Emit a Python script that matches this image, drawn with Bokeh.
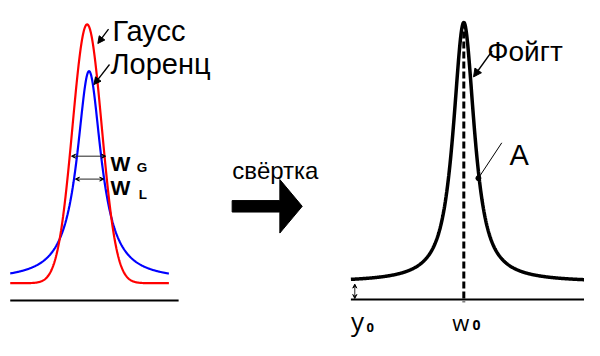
import numpy as np
from bokeh.plotting import figure
from bokeh.models import Range1d, Arrow, NormalHead, VeeHead
from bokeh.core.properties import value
from bokeh.embed import file_html
from bokeh.resources import INLINE

# ---- data (diagram units: x right, y up) ----
# Gaussian (Гаусс)
gauss_center = 89.0
gauss_base = 60.0
gauss_amp = 271.0
gauss_sigma = 15.0
# Lorentzian (Лоренц)
lor_center = 91.0
lor_base = 63.0
lor_amp = 219.0
lor_gamma = 15.0
left_x_span = [10.0, 173.0]
left_axis_y = 42.0
left_axis_x = [10.0, 183.0]
# Voigt (Фойгт)
voigt_center = 476.0
voigt_base = 61.0
voigt_amp = 272.0
voigt_fwhm = 26.0
voigt_eta = 0.9
right_x_span = [360.0, 600.0]
right_axis_y = 43.0

labels_left = ["Гаусс", "Лоренц"]
label_conv = "свёртка"
label_voigt = "Фойгт"
label_A = "A"

# ---- curves ----
xl = np.linspace(left_x_span[0], left_x_span[1], 400)
y_gauss = gauss_base + gauss_amp * np.exp(-(xl - gauss_center) ** 2 / (2 * gauss_sigma ** 2))
y_lor = lor_base + lor_amp / (1 + ((xl - lor_center) / lor_gamma) ** 2)

xr = np.linspace(right_x_span[0], right_x_span[1], 600)
hw = voigt_fwhm / 2
sig = voigt_fwhm / 2.3548
prof = voigt_eta / (1 + ((xr - voigt_center) / hw) ** 2) + (1 - voigt_eta) * np.exp(-(xr - voigt_center) ** 2 / (2 * sig ** 2))
y_voigt = voigt_base + voigt_amp * prof

W, H = 584, 340
p = figure(width=W, height=H, output_backend="svg", toolbar_location=None,
           x_range=Range1d(0, 600), y_range=Range1d(0, 356),
           min_border=0, outline_line_color=None)
p.axis.visible = False
p.grid.visible = False
p.background_fill_color = "white"

SANS = value("Liberation Sans")
OPEN = value("Open Sans")

# left panel
p.line(left_axis_x, [left_axis_y, left_axis_y], line_color="black", line_width=2)
p.line(xl, y_lor, line_color="#0000ff", line_width=2.2)
p.line(xl, y_gauss, line_color="#ff0000", line_width=2.2)

# width arrows
for (x0, x1, yy) in [(73, 108, 193), (77, 106, 169)]:
    p.add_layout(Arrow(start=VeeHead(size=4, line_width=1), end=VeeHead(size=4, line_width=1),
                       x_start=x0, y_start=yy, x_end=x1, y_end=yy, line_width=1, line_color="#222222"))

p.text(x=[115], y=[324], text=[labels_left[0]], text_font=SANS, text_font_size="29px",
       text_baseline="alphabetic", text_align="left", text_color="black")
p.text(x=[113], y=[289], text=[labels_left[1]], text_font=SANS, text_font_size="29px",
       text_baseline="alphabetic", text_align="left", text_color="black")
for (x0, y0, x1, y1) in [(111, 326, 100, 311), (112, 289, 96, 268)]:
    p.add_layout(Arrow(end=NormalHead(size=7, fill_color="black", line_color="black"),
                       x_start=x0, y_start=y0, x_end=x1, y_end=y1, line_width=1.3))

p.text(x=[113, 113], y=[185, 160], text=["W", "W"], text_font=SANS, text_font_size="21px",
       text_font_style="bold", text_baseline="alphabetic", text_color="black")
p.text(x=[140, 142], y=[181, 153], text=["G", "L"], text_font=SANS, text_font_size="13.5px",
       text_font_style="bold", text_baseline="alphabetic", text_color="black")

# convolution arrow
p.text(x=[238], y=[178], text=[label_conv], text_font=SANS, text_font_size="24px",
       text_baseline="alphabetic", text_color="black")
ac = 140.5
p.patch([238, 287, 287, 310, 287, 287, 238],
        [ac + 6, ac + 6, ac + 28, ac, ac - 28, ac - 6, ac - 6],
        fill_color="black", line_color="black")

# right panel
p.line(right_x_span, [right_axis_y, right_axis_y], line_color="black", line_width=2)
p.line([voigt_center, voigt_center], [334, 40], line_color="black", line_width=3, line_dash="7 3")
p.line(xr, y_voigt, line_color="black", line_width=3.5)

p.text(x=[500], y=[303], text=[label_voigt], text_font=SANS, text_font_size="28px",
       text_baseline="alphabetic", text_color="black")
p.add_layout(Arrow(end=NormalHead(size=8, fill_color="black", line_color="black"),
                   x_start=505, y_start=303, x_end=486, y_end=276, line_width=1.5))

p.text(x=[523], y=[194], text=[label_A], text_font=SANS, text_font_size="29px",
       text_baseline="alphabetic", text_color="black")
p.line([515, 491], [207, 170], line_color="black", line_width=1)
p.scatter([491], [170], size=5, color="black")

# y0 offset arrow
p.add_layout(Arrow(start=VeeHead(size=4, line_width=1), end=VeeHead(size=4, line_width=1),
                   x_start=364, y_start=59, x_end=364, y_end=44, line_width=1, line_color="#222222"))

p.text(x=[360], y=[20], text=["y"], text_font=OPEN, text_font_size="26px",
       text_baseline="alphabetic", text_color="black")
p.text(x=[376], y=[14], text=["0"], text_font=OPEN, text_font_size="13px", text_font_style="bold",
       text_baseline="alphabetic", text_color="black")
p.text(x=[464], y=[19], text=["w"], text_font=OPEN, text_font_size="22px",
       text_baseline="alphabetic", text_color="black")
p.text(x=[485], y=[16], text=["0"], text_font=OPEN, text_font_size="14px", text_font_style="bold",
       text_baseline="alphabetic", text_color="black")

open("out.html", "w").write(file_html(p, INLINE))
